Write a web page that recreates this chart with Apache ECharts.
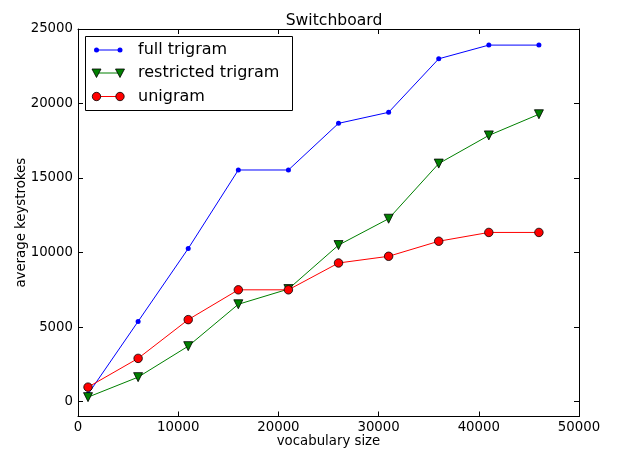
<!DOCTYPE html>
<html><head><meta charset="utf-8">
<script src="https://cdn.jsdelivr.net/npm/echarts@6/dist/echarts.min.js"></script>
<style>html,body{margin:0;padding:0;background:#fff}#c{width:618px;height:453px}</style>
</head><body><div id="c"></div>
<script>
const vocabSizes = [1000, 6000, 11000, 16000, 21000, 26000, 31000, 36000, 41000, 46000];
const fullTrigram = [500, 5380, 10270, 15540, 15540, 18670, 19410, 23000, 23920, 23920];
const restrictedTrigram = [300, 1640, 3720, 6530, 7550, 10500, 12270, 15970, 17860, 19280];
const unigram = [970, 2900, 5500, 7500, 7500, 9300, 9750, 10760, 11350, 11350];
const xTicks = [0, 10000, 20000, 30000, 40000, 50000];
const yTicks = [0, 5000, 10000, 15000, 20000, 25000];
const seriesNames = ['full trigram', 'restricted trigram', 'unigram'];

const FONT = 'DejaVu Sans';
const chart = echarts.init(document.getElementById('c'), null, {renderer: 'canvas'});

function pairs(ys) { return vocabSizes.map((x, i) => [x, ys[i]]); }

const axisCommon = {
  axisLine: {show: true, onZero: false, lineStyle: {color: '#000', width: 1}},
  splitLine: {show: false}
};

const option = {
  backgroundColor: '#fff',
  animation: false,
  title: {
    text: 'Switchboard', left: 329, top: 8, textAlign: 'center',
    textStyle: {fontFamily: FONT, fontSize: 15.6, fontWeight: 'normal', color: '#000'}
  },
  grid: {left: 78, right: 39, top: 29, bottom: 36, containLabel: false},
  xAxis: [
    Object.assign({}, axisCommon, {
      type: 'value', min: 0, max: 50000, interval: 10000, position: 'bottom',
      name: 'vocabulary size', nameLocation: 'middle', nameGap: 18.5, nameMoveOverlap: false,
      nameTextStyle: {fontFamily: FONT, fontSize: 13.3, color: '#000'},
      axisTick: {show: true, inside: true, length: 5, lineStyle: {color: '#000'}, customValues: xTicks},
      axisLabel: {fontFamily: FONT, fontSize: 13.3, color: '#000', margin: 5, customValues: xTicks,
        formatter: v => String(v), showMinLabel: true, showMaxLabel: true}
    }),
    Object.assign({}, axisCommon, {
      type: 'value', min: 0, max: 50000, interval: 10000, position: 'top',
      axisTick: {show: true, inside: true, length: 5, lineStyle: {color: '#000'}, customValues: xTicks},
      axisLabel: {show: false}
    })
  ],
  yAxis: [
    Object.assign({}, axisCommon, {
      type: 'value', min: -1000, max: 25000, position: 'left',
      name: 'average keystrokes', nameLocation: 'middle', nameGap: 50, nameMoveOverlap: false,
      nameTextStyle: {fontFamily: FONT, fontSize: 13.3, color: '#000'},
      axisTick: {show: true, inside: true, length: 5, lineStyle: {color: '#000'}, customValues: yTicks},
      axisLabel: {fontFamily: FONT, fontSize: 13.3, color: '#000', margin: 5, customValues: yTicks,
        formatter: v => String(v)}
    }),
    Object.assign({}, axisCommon, {
      type: 'value', min: -1000, max: 25000, position: 'right',
      axisTick: {show: true, inside: true, length: 5, lineStyle: {color: '#000'}, customValues: yTicks},
      axisLabel: {show: false}
    })
  ],
  series: [
    {
      name: seriesNames[0], type: 'line', data: pairs(fullTrigram),
      symbol: 'circle', symbolSize: 5,
      lineStyle: {color: '#0000ff', width: 1},
      itemStyle: {color: '#0000ff', borderWidth: 0}
    },
    {
      name: seriesNames[1], type: 'line', data: pairs(restrictedTrigram),
      symbol: 'triangle', symbolRotate: 180, symbolSize: 9,
      lineStyle: {color: '#008000', width: 1},
      itemStyle: {color: '#008000', borderColor: '#000', borderWidth: 0.8}
    },
    {
      name: seriesNames[2], type: 'line', data: pairs(unigram),
      symbol: 'circle', symbolSize: 8.5,
      lineStyle: {color: '#ff0000', width: 1},
      itemStyle: {color: '#ff0000', borderColor: '#000', borderWidth: 0.8}
    }
  ],
  graphic: (function () {
    const els = [];
    els.push({type: 'rect', shape: {x: 85.5, y: 36.5, width: 207, height: 74},
      style: {fill: '#fff', stroke: '#000', lineWidth: 1}, z: 100});
    const rows = [50, 73, 96.5];
    const colors = ['#0000ff', '#008000', '#ff0000'];
    const x1 = 96.5, x2 = 120;
    rows.forEach((y, i) => {
      els.push({type: 'line', shape: {x1: x1, y1: y, x2: x2, y2: y},
        style: {stroke: colors[i], lineWidth: 1}, z: 101});
      [x1, x2].forEach(x => {
        if (i === 0) {
          els.push({type: 'circle', shape: {cx: x, cy: y, r: 2.5}, style: {fill: colors[i]}, z: 102});
        } else if (i === 1) {
          els.push({type: 'polygon', shape: {points: [[x - 4.5, y - 4], [x + 4.5, y - 4], [x, y + 4.5]]},
            style: {fill: colors[i], stroke: '#000', lineWidth: 0.8}, z: 102});
        } else {
          els.push({type: 'circle', shape: {cx: x, cy: y, r: 4.2},
            style: {fill: colors[i], stroke: '#000', lineWidth: 0.8}, z: 102});
        }
      });
      els.push({type: 'text', x: 138, y: y,
        style: {text: seriesNames[i], fill: '#000', font: '16px "DejaVu Sans"',
          textAlign: 'left', textVerticalAlign: 'middle', verticalAlign: 'middle'}, z: 102});
    });
    return els;
  })()
};
chart.setOption(option);
</script></body></html>
